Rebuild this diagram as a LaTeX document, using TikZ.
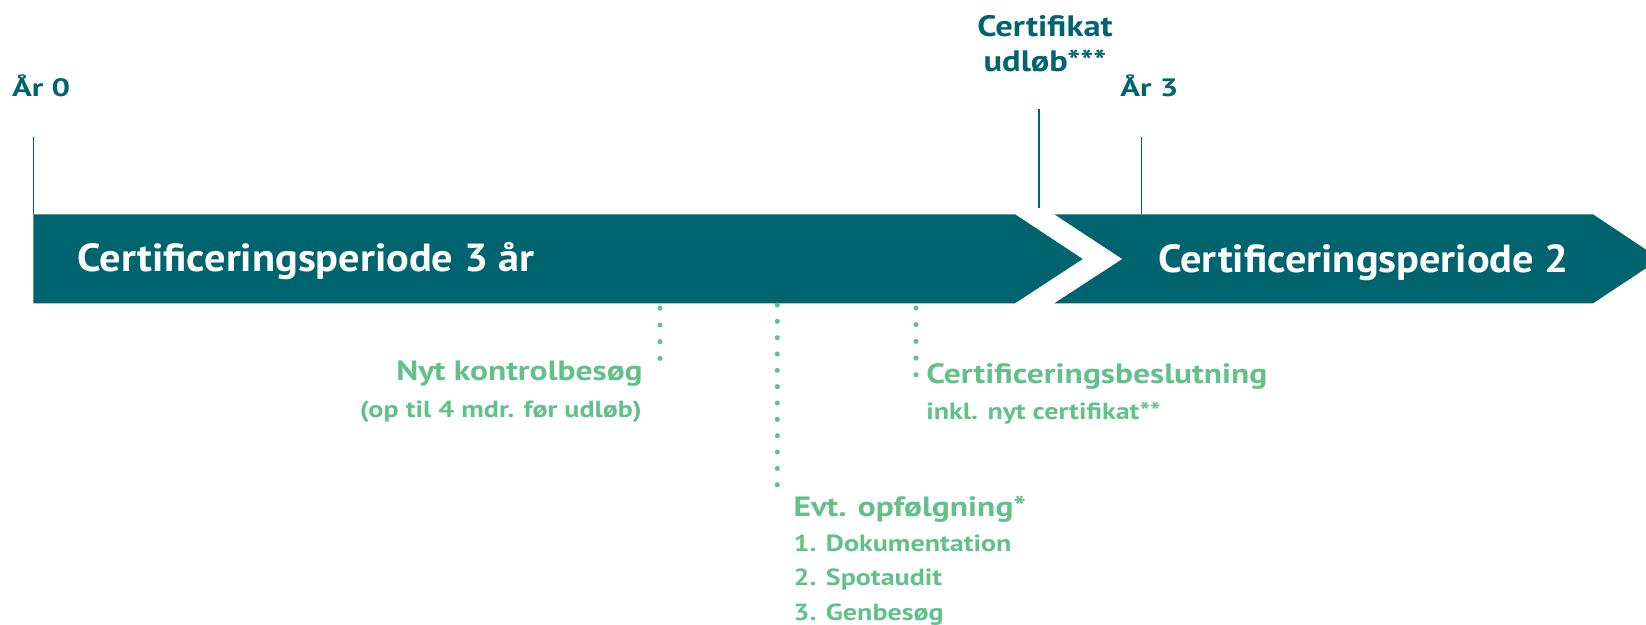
\documentclass[tikz,border=0pt]{standalone}
\usepackage{fontspec}
\setmainfont{PT Sans}
\newfontfamily\barfont{PT Sans}[FakeStretch=1.08]
\newfontfamily\tealfont{PT Sans}[FakeStretch=1.3]
\newfontfamily\udlfont{PT Sans}[FakeStretch=1.17]
\newfontfamily\greenfont{PT Sans}[FakeStretch=1.2]
\usepackage{tikz}
\usetikzlibrary{positioning}
\definecolor{certteal}{HTML}{00646F}
\definecolor{certgreen}{HTML}{62C189}

\begin{document}
\begin{tikzpicture}[
  x=0.02cm, y=-0.02cm,
  bar/.style={fill=certteal, draw=none},
  bartext/.style={font=\barfont\fontsize{22.3}{26}\selectfont\bfseries, text=white,
                  inner sep=0pt, anchor=base west},
  yearlab/.style={font=\tealfont\fontsize{14.3}{17}\selectfont\bfseries, text=certteal, inner sep=0pt},
  udllab/.style={yearlab, font=\udlfont\fontsize{16.8}{20}\selectfont\bfseries, anchor=base},
  tickline/.style={draw=certteal, line width=0.8pt},
  greenlab/.style={font=\greenfont\fontsize{15.9}{18}\selectfont\bfseries, text=certgreen, inner sep=0pt},
  sublab/.style={greenlab, font=\greenfont\fontsize{13.3}{16}\selectfont\bfseries},
  dotline/.style={draw=certgreen, line width=2.9pt, line cap=round, dash pattern=on 0pt off #1}
]
\useasboundingbox (0,0) rectangle (1646,625);
\clip (0,0) rectangle (1646,625);

% bars
\fill[bar] (33.3,214.3) -- (1015,214.3) -- (1082.7,259) -- (1015,303.3) -- (33.3,303.3) -- cycle;
\fill[bar] (1054.3,214.3) -- (1593,214.3) -- (1660,259) -- (1593,303.3) -- (1054.3,303.3)
  -- (1122.3,259) -- cycle;
\node[bartext] (per1) at (77.3,271.7) {Certificeringsperiode 3 år};
\node[bartext] (per2) at (1158,272) {Certificeringsperiode 2};

% top labels
\node[yearlab, anchor=base west] (aar0) at (11.7,96.7) {År 0};
\node[yearlab, anchor=base west] (aar3) at (1120,96.7) {År 3};
\node[udllab] (udl1) at (1045,36.7) {Certifikat};
\node[udllab] (udl2) at (1045,71.7) {udløb***};

\coordinate (t0) at (33.5,137.3);
\coordinate (t0b) at (33.5,214.3);
\coordinate (tu) at (1039,109.3);
\coordinate (tub) at (1039,208.3);
\coordinate (t3) at (1141.5,136.7);
\coordinate (t3b) at (1141.5,214.3);
\draw[tickline] (t0) -- (t0b);
\draw[tickline] (tu) -- (tub);
\draw[tickline] (t3) -- (t3b);

% labels below
\node[greenlab, anchor=base east] (kontrol) at (643,380) {Nyt kontrolbesøg};
\node[sublab, anchor=base east] (kontrolsub) at (642,417) {(op til 4 mdr. før udløb)};
\node[greenlab, anchor=base west] (beslut) at (926,383.3) {Certificeringsbeslutning};
\node[sublab, anchor=base west] (beslutsub) at (926,419.3) {inkl. nyt certifikat**};
\node[greenlab, anchor=base west] (opf) at (793.3,516.7) {Evt. opfølgning*};
\node[sublab, anchor=base west] (opf1) at (793.3,551.7) {1. Dokumentation};
\node[sublab, anchor=base west] (opf2) at (793.3,585) {2. Spotaudit};
\node[sublab, anchor=base west] (opf3) at (793.3,620) {3. Genbesøg};

\coordinate (d1) at (660,308.3);
\coordinate (d1e) at (660,375);
\coordinate (d2) at (777.3,305);
\coordinate (d2e) at (777.3,501);
\coordinate (d3) at (916,308);
\coordinate (d3e) at (916,375);
\draw[dotline=9.5pt] (d1) -- (d1e);
\draw[dotline=9.3pt] (d2) -- (d2e);
\draw[dotline=9.5pt] (d3) -- (d3e);
\end{tikzpicture}
\end{document}
